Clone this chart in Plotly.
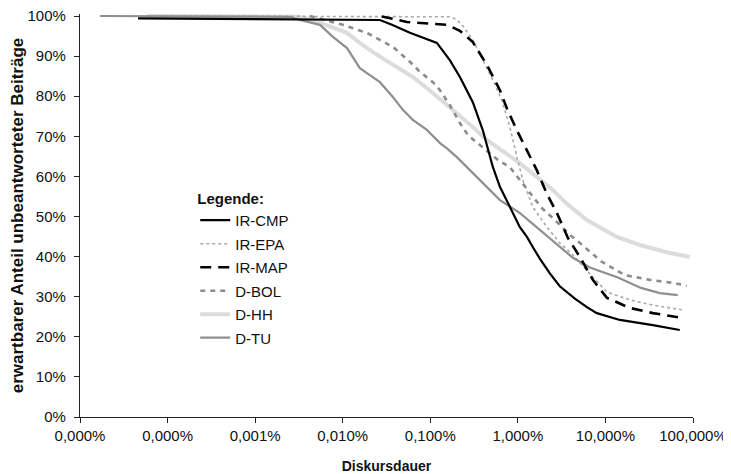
import plotly.graph_objects as go

# x: discourse duration as fraction (1 = 100 %), y: percent
series_names = ["IR-CMP", "IR-EPA", "IR-MAP", "D-BOL", "D-HH", "D-TU"]

ir_cmp_x = [4.6e-7, 5.1e-5, 2.66e-4, 3.65e-4, 5.85e-4, 1.19e-3, 1.67e-3, 2.18e-3, 3.06e-3, 3.98e-3,
            5.19e-3, 6.24e-3, 7.48e-3, 8.77e-3, 1.05e-2, 1.27e-2, 1.48e-2, 1.78e-2, 2.32e-2, 3.01e-2,
            4.48e-2, 6.14e-2, 7.98e-2, 0.146, 0.348, 0.706]
ir_cmp_y = [99.4, 99.2, 99.0, 97.8, 95.8, 93.3, 89.0, 84.8, 78.5, 71.5,
            62.3, 57.4, 54.1, 50.9, 47.4, 44.9, 42.4, 39.5, 35.8, 32.6,
            29.5, 27.4, 25.9, 24.2, 22.9, 21.7]

ir_epa_x = [5.8e-7, 1.67e-3, 1.98e-3, 2.36e-3, 3.06e-3, 3.98e-3, 5.19e-3, 6.56e-3, 8.11e-3, 9.75e-3,
            1.14e-2, 1.48e-2, 2.14e-2, 3.01e-2, 4.25e-2, 7.18e-2, 0.104, 0.190, 0.348, 0.766]
ir_epa_y = [100.0, 99.8, 99.2, 97.5, 94.0, 89.0, 84.0, 79.0, 72.3, 64.8,
            59.1, 52.4, 47.4, 43.4, 40.4, 34.9, 31.2, 29.2, 27.9, 26.7]

ir_map_x = [2.8e-4, 5.41e-4, 1.55e-3, 2.18e-3, 3.06e-3, 4.43e-3, 6.24e-3, 7.48e-3, 9.75e-3, 1.27e-2,
            1.65e-2, 2.14e-2, 2.79e-2, 3.72e-2, 5.11e-2, 7.18e-2, 0.104, 0.190, 0.348, 0.766]
ir_map_y = [99.9, 98.5, 97.8, 96.3, 93.5, 87.8, 81.5, 77.0, 71.5, 66.5,
            61.5, 55.7, 50.9, 44.7, 39.9, 34.2, 29.7, 27.2, 25.9, 24.7]

d_bol_x = [4.23e-5, 7.14e-5, 1.00e-4, 1.89e-4, 2.66e-4, 3.74e-4, 5.85e-4, 7.60e-4, 1.07e-3, 1.29e-3,
           1.67e-3, 2.18e-3, 2.69e-3, 3.49e-3, 4.55e-3, 5.92e-3, 8.11e-3, 1.20e-2, 1.88e-2, 2.51e-2,
           3.18e-2, 3.93e-2, 5.11e-2, 9.10e-2, 0.166, 0.321, 0.619, 0.849]
d_bol_y = [100.0, 98.6, 97.8, 95.8, 94.0, 92.3, 88.6, 86.1, 83.5, 81.5,
           77.8, 73.3, 70.3, 68.3, 66.1, 64.1, 62.3, 57.5, 52.1, 49.6,
           47.4, 45.4, 43.4, 38.7, 35.4, 34.2, 33.4, 32.7]

d_hh_x = [5.82e-7, 3.24e-5, 5.07e-5, 1.12e-4, 1.57e-4, 2.21e-4, 3.46e-4, 6.32e-4, 1.07e-3, 1.81e-3,
          3.06e-3, 4.43e-3, 1.05e-2, 2.51e-2, 3.62e-2, 6.14e-2, 0.135, 0.247, 0.502, 0.918]
d_hh_y = [100.0, 99.8, 98.6, 95.8, 93.3, 91.0, 88.3, 84.8, 80.8, 76.6,
          72.3, 69.1, 63.3, 56.6, 53.2, 49.1, 44.9, 42.9, 41.1, 39.9]

d_tu_x = [1.69e-7, 2.49e-5, 3.24e-5, 5.50e-5, 7.73e-5, 1.12e-4, 1.57e-4, 1.89e-4, 2.66e-4, 3.74e-4,
          4.86e-4, 6.32e-4, 9.14e-4, 1.29e-3, 1.55e-3, 2.01e-3, 3.68e-3, 6.24e-3, 1.05e-2, 1.78e-2,
          2.64e-2, 4.25e-2, 6.64e-2, 0.139, 0.254, 0.418, 0.670]
d_tu_y = [100.0, 99.8, 99.0, 97.8, 94.8, 92.0, 87.0, 85.8, 83.5, 79.8,
          76.6, 74.1, 71.6, 68.3, 67.0, 64.8, 59.1, 54.1, 50.9, 46.6,
          43.4, 39.7, 37.3, 34.8, 32.2, 30.9, 30.4]

x_tick_vals = [1e-7, 1e-6, 1e-5, 1e-4, 1e-3, 1e-2, 1e-1, 1]
x_tick_text = [f"{v * 100:.3f}".replace(".", ",") + "%" for v in x_tick_vals]
y_tick_vals = list(range(0, 101, 10))
y_tick_text = [f"{v}%" for v in y_tick_vals]

FONT = "Liberation Sans, Arial, sans-serif"

data_x = [ir_cmp_x, ir_epa_x, ir_map_x, d_bol_x, d_hh_x, d_tu_x]
data_y = [ir_cmp_y, ir_epa_y, ir_map_y, d_bol_y, d_hh_y, d_tu_y]
styles = [
    dict(color="#000000", width=2.2, dash="solid"),
    dict(color="#a8a8a8", width=1.6, dash="dot"),
    dict(color="#000000", width=2.6, dash="11px,7px"),
    dict(color="#8c8c8c", width=2.6, dash="5px,5px"),
    dict(color="#dcdcdc", width=4, dash="solid"),
    dict(color="#8f8f8f", width=2.2, dash="solid"),
]

fig = go.Figure()
draw_order = [4, 1, 3, 5, 2, 0]
for i in draw_order:
    fig.add_trace(go.Scatter(
        x=data_x[i], y=data_y[i], mode="lines", name=series_names[i],
        line=styles[i], legendgroup=series_names[i], legendrank=i + 1,
        hoverinfo="skip",
    ))

# the page body adds an 8px offset at top/left, so the figure is 8px smaller
fig.update_layout(
    width=723, height=466,
    margin=dict(l=72, r=38, t=6, b=57),
    paper_bgcolor="white", plot_bgcolor="white",
    font=dict(family=FONT, size=15, color="#111111"),
    showlegend=True,
    legend=dict(
        x=0.188, y=0.577, xanchor="left", yanchor="top",
        bgcolor="rgba(0,0,0,0)", borderwidth=0,
        font=dict(family=FONT, size=15, color="#111111"),
        title=dict(text="<b>Legende:</b>", side="top",
                   font=dict(family=FONT, size=15, color="#111111")),
        tracegroupgap=1, itemwidth=30,
    ),
    xaxis=dict(
        type="log", range=[-7, 0], automargin=False,
        tickvals=x_tick_vals, ticktext=x_tick_text,
        ticklabeloverflow="allow",
        showline=True, linecolor="#222222", linewidth=1.3,
        ticks="outside", ticklen=5, tickcolor="#222222", tickwidth=1.3,
        showgrid=False, zeroline=False,
        tickfont=dict(family=FONT, size=15, color="#111111"),
        title=dict(text="<b>Diskursdauer</b>", standoff=27,
                   font=dict(family=FONT, size=14, color="#111111")),
    ),
    yaxis=dict(
        range=[0, 100.5], automargin=False,
        tickvals=y_tick_vals, ticktext=y_tick_text,
        ticklabeloverflow="allow",
        showline=True, linecolor="#222222", linewidth=1.3,
        ticks="outside", ticklen=5, tickcolor="#222222", tickwidth=1.3,
        ticklabelstandoff=5,
        showgrid=False, zeroline=False,
        tickfont=dict(family=FONT, size=15, color="#111111"),
        title=dict(text="<b>erwartbarer Anteil unbeantworteter Beiträge</b>", standoff=4,
                   font=dict(family=FONT, size=17, color="#111111")),
    ),
)

fig.write_html("out.html")
